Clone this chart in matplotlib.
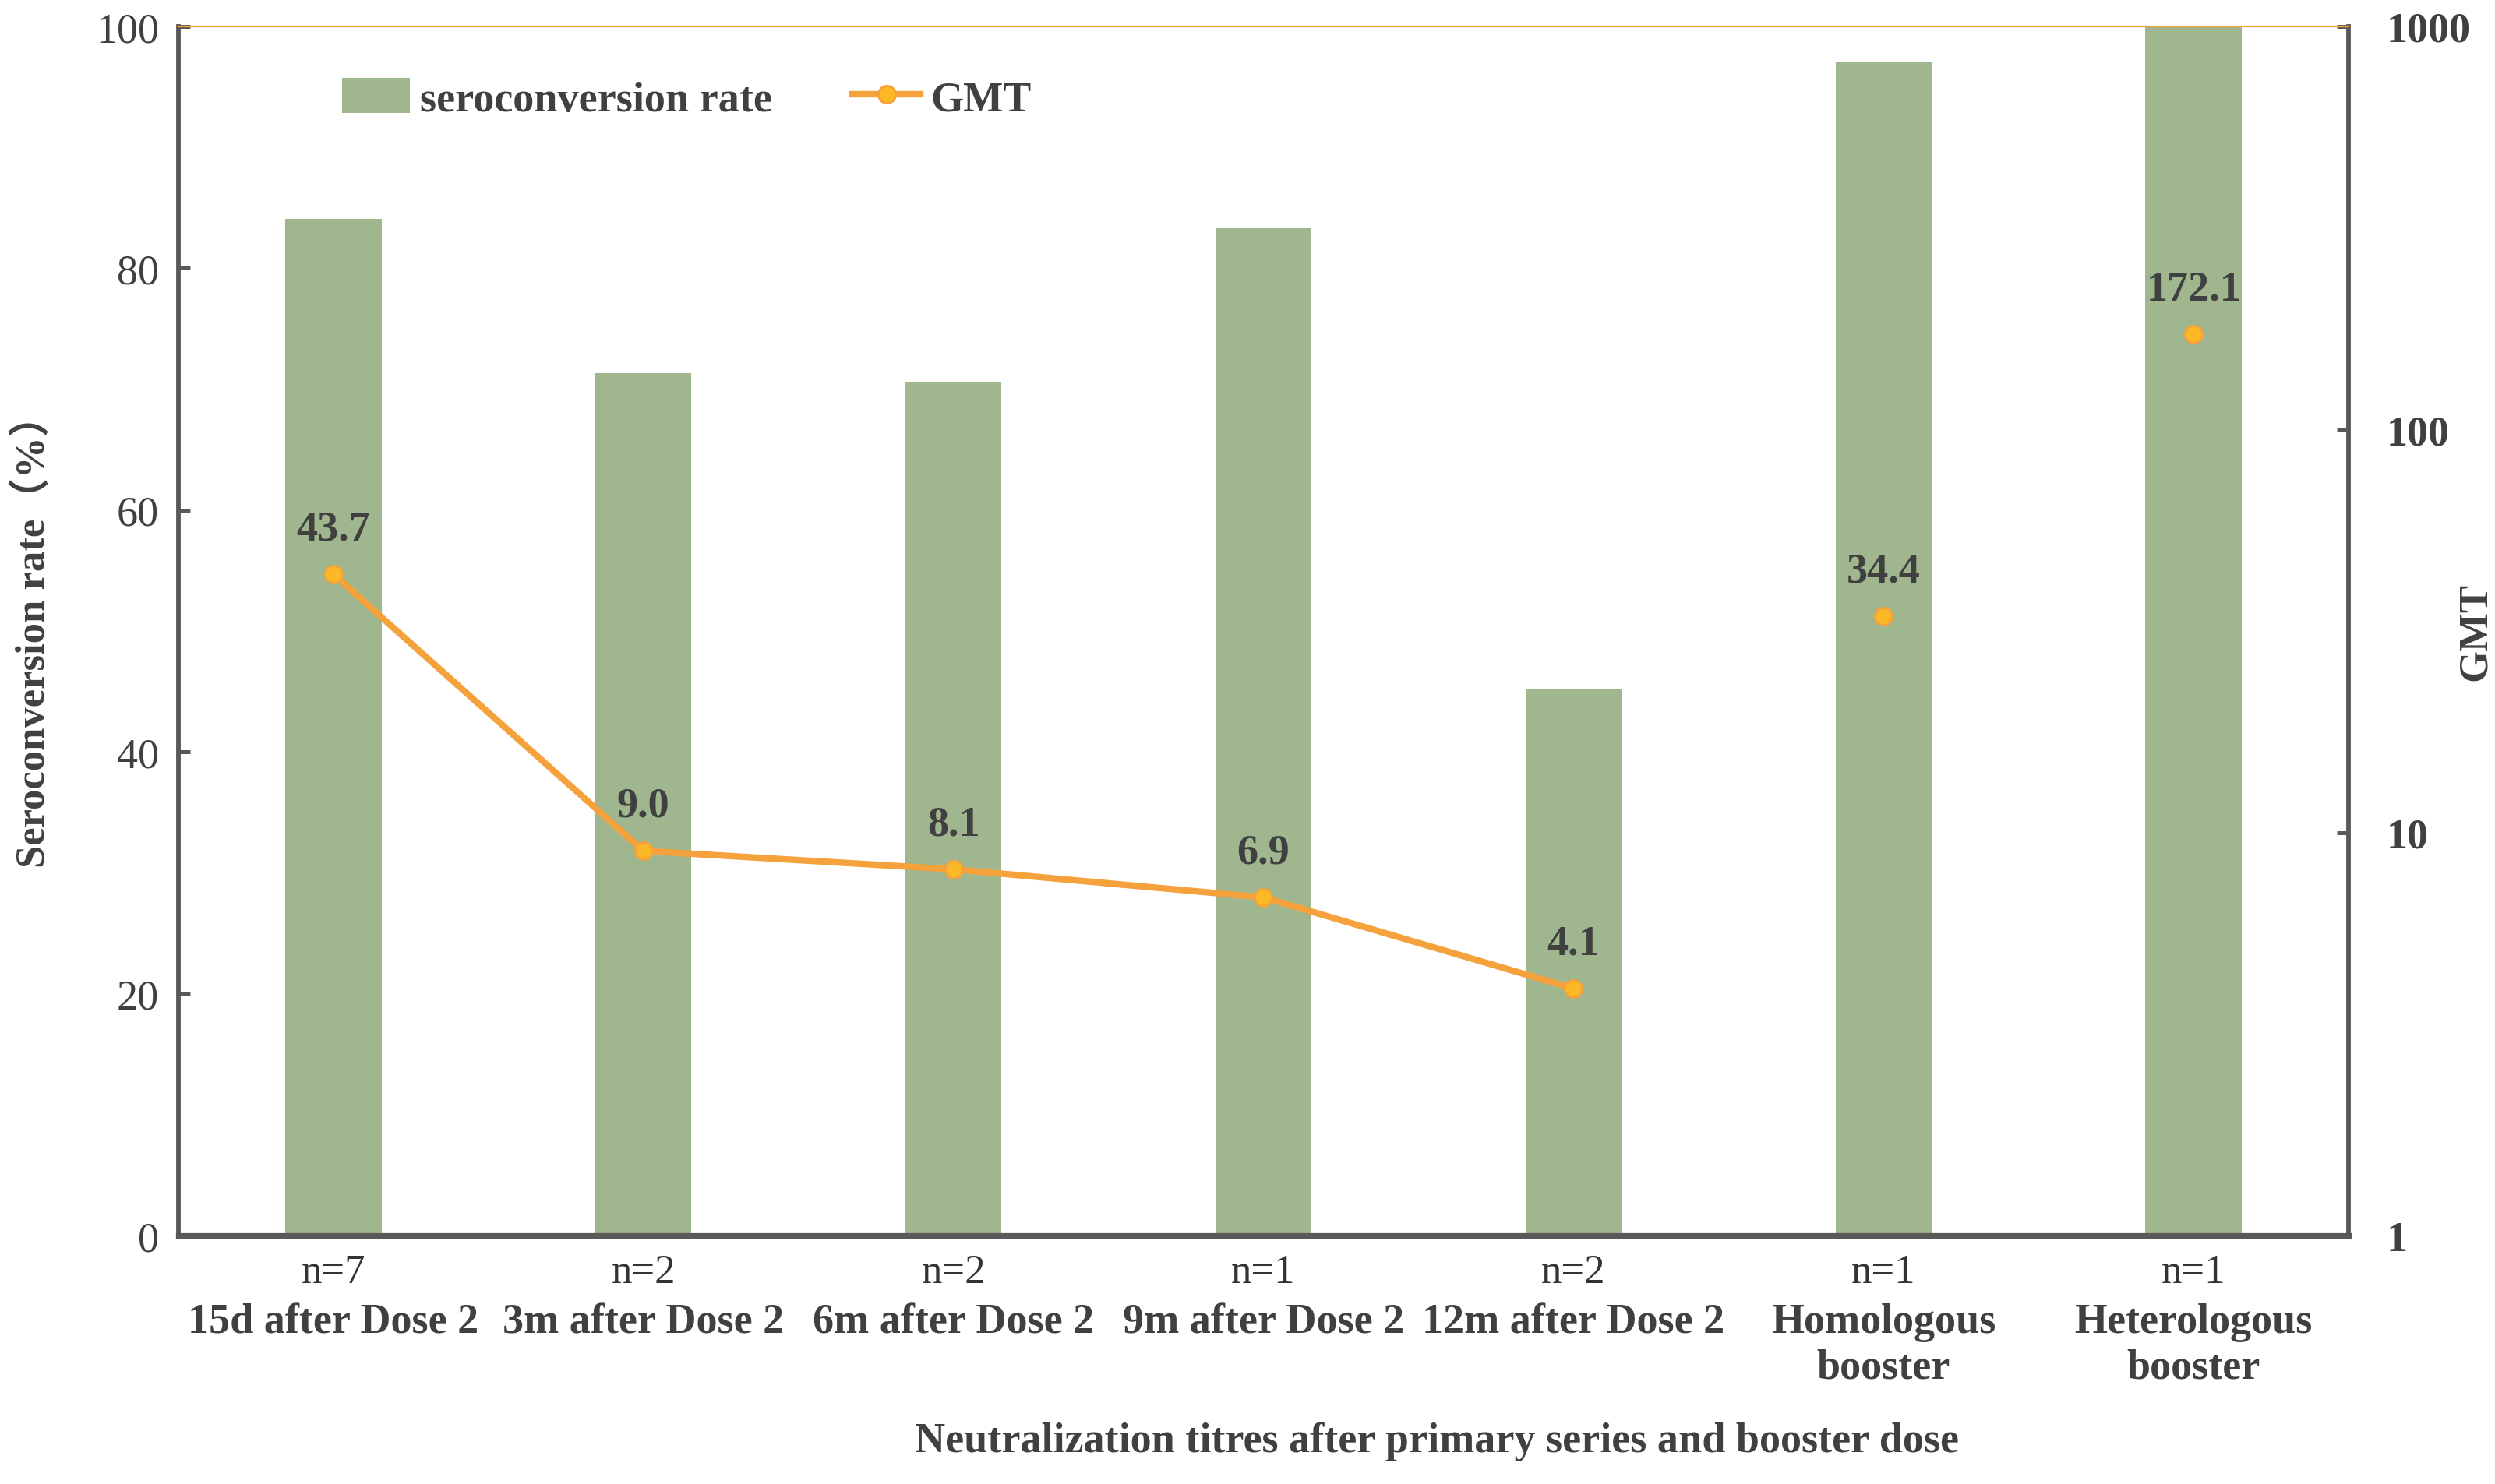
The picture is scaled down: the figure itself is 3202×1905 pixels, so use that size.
import matplotlib
matplotlib.use("Agg")
import matplotlib.pyplot as plt

# data
groups = ["15d after Dose 2", "3m after Dose 2", "6m after Dose 2", "9m after Dose 2",
          "12m after Dose 2", "Homologous\nbooster", "Heterologous\nbooster"]
n_labels = ["n=7", "n=2", "n=2", "n=1", "n=2", "n=1", "n=1"]
sero_rate = [84.1, 71.3, 70.6, 83.3, 45.2, 97.0, 100.0]
gmt = [43.7, 9.0, 8.1, 6.9, 4.1, 34.4, 172.1]
n_primary = 5          # first five points are joined by the line

GREEN = "#9fb68f"
ORANGE = "#f5a23c"
MARKER = "#fdb827"
TXT = "#404040"
SPINE = "#595959"

plt.rcParams["font.family"] = ["Liberation Serif", "Noto Sans CJK SC"]
plt.rcParams["text.color"] = TXT

fig = plt.figure(figsize=(16.01, 9.53), dpi=200)
ax = fig.add_axes([0.0715, 0.1674, 0.8698, 0.8143])
x = list(range(len(groups)))

bars = ax.bar(x, sero_rate, width=0.31, color=GREEN, zorder=2, label="seroconversion rate")
ax.set_xlim(-0.5, len(groups) - 0.5)
ax.set_ylim(0, 100)
ax.set_yticks(range(0, 101, 20))
ax.tick_params(axis="y", direction="in", length=5.4, width=1.8, color=SPINE,
               labelsize=19.5, labelcolor=TXT, pad=9)
ax.set_xticks([])
for s in ("left", "bottom"):
    ax.spines[s].set_color(SPINE)
    ax.spines[s].set_linewidth(2.1)
ax.spines["bottom"].set_linewidth(2.6)
ax.spines["top"].set_visible(False)
ax.spines["right"].set_visible(False)

ax.set_ylabel("Seroconversion rate（%）", fontsize=19, fontweight="bold", color=TXT)
ax.yaxis.set_label_coords(-0.058, 0.5)

ax2 = ax.twinx()
ax2.set_yscale("log")
ax2.set_ylim(1, 1000)
ax2.set_yticks([1, 10, 100, 1000])
ax2.set_yticklabels(["1", "10", "100", "1000"])
ax2.yaxis.set_minor_locator(matplotlib.ticker.NullLocator())
ax2.tick_params(axis="y", direction="in", length=5.4, width=1.8, color=SPINE,
                labelsize=19.5, labelcolor=TXT, pad=17.5)
for lab in ax2.get_yticklabels():
    lab.set_fontweight("bold")
ax2.spines["right"].set_color(SPINE)
ax2.spines["right"].set_linewidth(2.1)
ax2.spines["top"].set_color(ORANGE)
ax2.spines["top"].set_linewidth(0.8)
ax2.spines["left"].set_visible(False)
ax2.spines["bottom"].set_visible(False)
ax2.set_ylabel("GMT", fontsize=19, fontweight="bold", color=TXT)
ax2.yaxis.set_label_coords(1.05, 0.5)

line, = ax2.plot(x[:n_primary], gmt[:n_primary], color=ORANGE, lw=3.0, marker="o",
                 ms=8, mfc=MARKER, mec=ORANGE, mew=1.0, zorder=3, label="GMT")
ax2.plot(x[n_primary:], gmt[n_primary:], ls="none", marker="o",
         ms=8, mfc=MARKER, mec=ORANGE, mew=1.0, zorder=3)

for xi, g in zip(x, gmt):
    ax2.annotate(f"{g:.1f}", (xi, g), xytext=(0, 16), textcoords="offset points",
                 ha="center", va="baseline", fontsize=19.5, fontweight="bold", color=TXT)

# category labels under the axis: n= line, then group name lines
xtr = ax.get_xaxis_transform()
for xi, nl, grp in zip(x, n_labels, groups):
    ax.annotate(nl, (xi, 0), xycoords=xtr, xytext=(0, -17), textcoords="offset points",
                ha="center", va="center", fontsize=19, color="#333333")
    for k, part in enumerate(grp.split("\n")):
        ax.annotate(part, (xi, 0), xycoords=xtr, xytext=(0, -40 - 21.2 * k),
                    textcoords="offset points", ha="center", va="center",
                    fontsize=19.5, fontweight="bold", color=TXT)

fig.text(0.576, 0.029, "Neutralization titres after primary series and booster dose",
         ha="center", va="center", fontsize=19.5, fontweight="bold", color=TXT)

ax2.legend([bars, line], ["seroconversion rate", "GMT"], loc="center left",
           bbox_to_anchor=(0.058, 0.94), ncol=2, frameon=False,
           prop={"size": 19.5, "weight": "bold"}, handlelength=1.6, handleheight=0.9,
           handletextpad=0.25, columnspacing=1.9, labelcolor=TXT)

fig.savefig("out.png", dpi=200)
print("wrote out.png")
